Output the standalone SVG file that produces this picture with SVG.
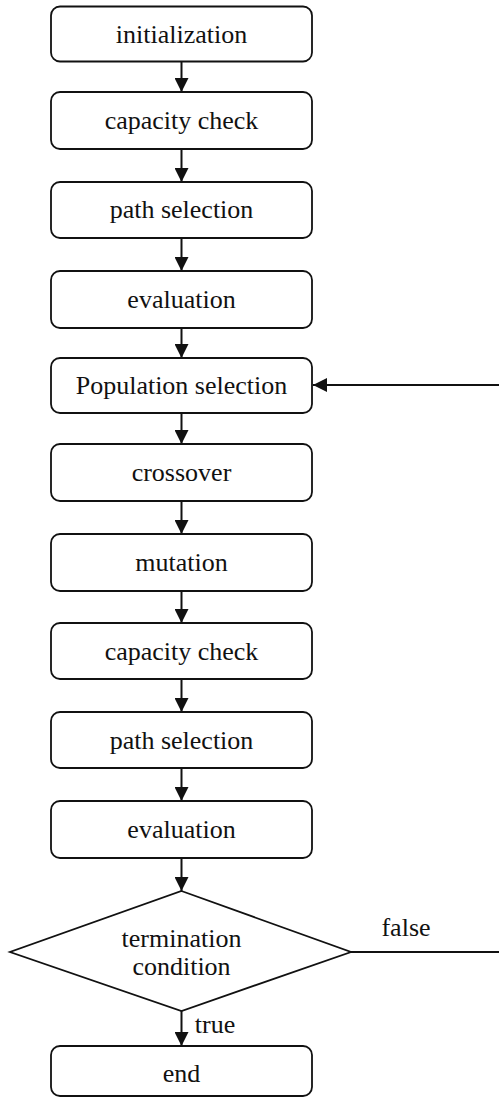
<svg xmlns="http://www.w3.org/2000/svg" width="499" height="1098" viewBox="0 0 499 1098">
  <style>
    .box { fill: #fff; stroke: #111; stroke-width: 1.8; }
    .lbl { font-family: "Liberation Serif", "Times New Roman", serif; font-size: 26px; fill: #111; text-anchor: middle; }
    .edge { fill: none; stroke: #111; stroke-width: 2; }
  </style>
  <defs>
    <marker id="arrow" markerUnits="userSpaceOnUse" markerWidth="14" markerHeight="14" viewBox="0 0 14 14" refX="14" refY="7" orient="auto">
      <path d="M0,0 L14,7 L0,14 Z" fill="#111"/>
    </marker>
  </defs>

  <rect width="499" height="1098" fill="#fff"/>

  <!-- connectors -->
  <g id="connectors">
    <line class="edge" x1="181.5" y1="61" x2="181.5" y2="92" marker-end="url(#arrow)"/>
    <line class="edge" x1="181.5" y1="149" x2="181.5" y2="182" marker-end="url(#arrow)"/>
    <line class="edge" x1="181.5" y1="238" x2="181.5" y2="271" marker-end="url(#arrow)"/>
    <line class="edge" x1="181.5" y1="328" x2="181.5" y2="358" marker-end="url(#arrow)"/>
    <line class="edge" x1="181.5" y1="413" x2="181.5" y2="444" marker-end="url(#arrow)"/>
    <line class="edge" x1="181.5" y1="501" x2="181.5" y2="534" marker-end="url(#arrow)"/>
    <line class="edge" x1="181.5" y1="591" x2="181.5" y2="623" marker-end="url(#arrow)"/>
    <line class="edge" x1="181.5" y1="679" x2="181.5" y2="712" marker-end="url(#arrow)"/>
    <line class="edge" x1="181.5" y1="768" x2="181.5" y2="801" marker-end="url(#arrow)"/>
    <line class="edge" x1="181.5" y1="858" x2="181.5" y2="891" marker-end="url(#arrow)"/>
    <line class="edge" x1="181.5" y1="1011" x2="181.5" y2="1046" marker-end="url(#arrow)"/>
    <!-- loop back from the decision -->
    <line class="edge" x1="351" y1="952" x2="499" y2="952"/>
    <line class="edge" x1="499" y1="385" x2="313" y2="385" marker-end="url(#arrow)"/>
    <text class="lbl" x="406" y="936">false</text>
    <text class="lbl" x="215" y="1033">true</text>
  </g>

  <g id="n-init">
    <rect class="box" x="51" y="6.5" width="261" height="55" rx="9"/>
    <text class="lbl" x="181.5" y="43">initialization</text>
  </g>
  <g id="n-capacity1">
    <rect class="box" x="51" y="92" width="261" height="57" rx="9"/>
    <text class="lbl" x="181.5" y="129">capacity check</text>
  </g>
  <g id="n-path1">
    <rect class="box" x="51" y="182" width="261" height="56" rx="9"/>
    <text class="lbl" x="181.5" y="218">path selection</text>
  </g>
  <g id="n-eval1">
    <rect class="box" x="51" y="271" width="261" height="57" rx="9"/>
    <text class="lbl" x="181.5" y="308">evaluation</text>
  </g>
  <g id="n-population">
    <rect class="box" x="51" y="358" width="261" height="55" rx="9"/>
    <text class="lbl" x="181.5" y="394">Population selection</text>
  </g>
  <g id="n-crossover">
    <rect class="box" x="51" y="444" width="261" height="57" rx="9"/>
    <text class="lbl" x="181.5" y="481">crossover</text>
  </g>
  <g id="n-mutation">
    <rect class="box" x="51" y="534" width="261" height="57" rx="9"/>
    <text class="lbl" x="181.5" y="571">mutation</text>
  </g>
  <g id="n-capacity2">
    <rect class="box" x="51" y="623" width="261" height="56" rx="9"/>
    <text class="lbl" x="181.5" y="660">capacity check</text>
  </g>
  <g id="n-path2">
    <rect class="box" x="51" y="712" width="261" height="56" rx="9"/>
    <text class="lbl" x="181.5" y="749">path selection</text>
  </g>
  <g id="n-eval2">
    <rect class="box" x="51" y="801" width="261" height="57" rx="9"/>
    <text class="lbl" x="181.5" y="838">evaluation</text>
  </g>
  <g id="n-termination">
    <polygon class="box" points="181.5,891 351,952 181.5,1011 10,952"/>
    <text class="lbl" x="181.5" y="947">termination</text>
    <text class="lbl" x="181.5" y="975">condition</text>
  </g>
  <g id="n-end">
    <rect class="box" x="51" y="1046" width="261" height="50" rx="9"/>
    <text class="lbl" x="181.5" y="1082">end</text>
  </g>
</svg>
